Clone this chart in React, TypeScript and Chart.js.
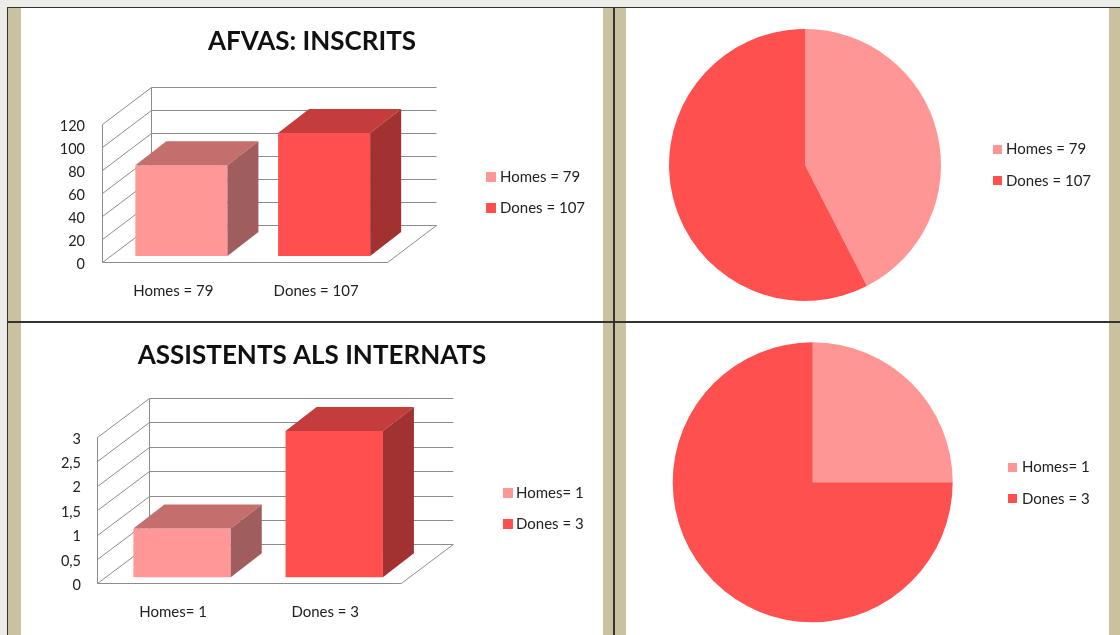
import React, { useEffect, useRef } from 'react';
import { Chart, registerables } from 'chart.js';

Chart.register(...registerables);

// ---------- data ----------
const titleInscrits = 'AFVAS: INSCRITS';
const categoriesInscrits = ['Homes = 79', 'Dones = 107'];
const valuesInscrits = [79, 107];
const yTicksInscrits = [0, 20, 40, 60, 80, 100, 120];
const yTickLabelsInscrits = ['0', '20', '40', '60', '80', '100', '120'];

const titleInternats = 'ASSISTENTS ALS INTERNATS';
const categoriesInternats = ['Homes= 1', 'Dones = 3'];
const valuesInternats = [1, 3];
const yTicksInternats = [0, 0.5, 1, 1.5, 2, 2.5, 3];
const yTickLabelsInternats = ['0', '0,5', '1', '1,5', '2', '2,5', '3'];

// ---------- styles ----------
const FRONT = ['#FF9797', '#FF4F4F'];
const TOP = ['#C46E6E', '#C43C3C'];
const SIDE = ['#A05D5D', '#A23131'];
const PIE = ['#FF9696', '#FF5050'];
const FONT = 'Lato, "Open Sans", sans-serif';
const TEXT = '#222';

const bar3d = {
  id: 'bar3d',
  beforeDatasetsDraw(chart: any, _a: any, opts: any) {
    const { ctx, chartArea: a, scales } = chart;
    const y = scales.y;
    const { dx, dy } = opts.wall;
    const L = Math.round(a.left) + 0.5;
    const R = a.right;
    ctx.save();
    ctx.strokeStyle = opts.gridColor;
    ctx.lineWidth = 1;
    ctx.beginPath();
    y.ticks.forEach((t: any) => {
      const py = Math.round(y.getPixelForValue(t.value)) + 0.5;
      ctx.moveTo(L, py);
      ctx.lineTo(L + dx, py + dy);
      ctx.lineTo(R + dx, py + dy);
    });
    const top = Math.round(y.getPixelForValue(y.max)) + 0.5;
    const bot = Math.round(y.getPixelForValue(y.min)) + 0.5;
    ctx.moveTo(L, top);
    ctx.lineTo(L, bot);
    ctx.moveTo(L + dx, top + dy);
    ctx.lineTo(L + dx, bot + dy);
    ctx.moveTo(L, bot);
    ctx.lineTo(R, bot);
    ctx.lineTo(R + dx, bot + dy);
    ctx.stroke();
    ctx.restore();
    ctx.save();
    ctx.translate(opts.shift.x, opts.shift.y);
  },
  afterDatasetsDraw(chart: any, _a: any, opts: any) {
    const { ctx } = chart;
    const meta = chart.getDatasetMeta(0);
    const { dx, dy } = opts.depth;
    meta.data.forEach((bar: any, i: number) => {
      const { x, y, base, width } = bar.getProps(['x', 'y', 'base', 'width'], true);
      const l = x - width / 2;
      const r = x + width / 2;
      ctx.fillStyle = opts.topColors[i];
      ctx.beginPath();
      ctx.moveTo(l, y);
      ctx.lineTo(l + dx, y + dy);
      ctx.lineTo(r + dx, y + dy);
      ctx.lineTo(r, y);
      ctx.closePath();
      ctx.fill();
      ctx.fillStyle = opts.sideColors[i];
      ctx.beginPath();
      ctx.moveTo(r, y);
      ctx.lineTo(r + dx, y + dy);
      ctx.lineTo(r + dx, base + dy);
      ctx.lineTo(r, base);
      ctx.closePath();
      ctx.fill();
    });
    ctx.restore();
  },
};

const sideLegend = {
  id: 'sideLegend',
  afterDraw(chart: any, _a: any, opts: any) {
    const { ctx } = chart;
    const labels = chart.data.labels as string[];
    const colors = chart.data.datasets[0].backgroundColor as string[];
    ctx.save();
    ctx.font = `15px ${FONT}`;
    ctx.textBaseline = 'middle';
    ctx.textAlign = 'left';
    labels.forEach((lab, i) => {
      const cy = opts.y + i * opts.dy;
      ctx.fillStyle = colors[i];
      ctx.fillRect(opts.boxX, Math.round(cy - opts.box / 2), opts.box, opts.box);
      ctx.fillStyle = TEXT;
      ctx.fillText(lab, opts.textX, cy);
    });
    ctx.restore();
  },
};

type BarCfg = {
  title: string;
  labels: string[];
  values: number[];
  ticks: number[];
  tickLabels: string[];
  max: number;
  axisW: number;
  rightW: number;
  axisH: number;
  titlePad: { top: number; bottom: number };
  xPad: number;
  yPad: number;
  barPct: number;
  wall: { dx: number; dy: number };
  shift: { x: number; y: number };
  depth: { dx: number; dy: number };
  legend: any;
};

function makeBar(canvas: HTMLCanvasElement, c: BarCfg) {
  return new Chart(canvas, {
    type: 'bar',
    data: {
      labels: c.labels,
      datasets: [
        {
          data: c.values,
          backgroundColor: FRONT,
          borderWidth: 0,
          categoryPercentage: 1,
          barPercentage: c.barPct,
          clip: false as any,
        },
      ],
    },
    options: {
      responsive: false,
      animation: false,
      events: [],
      layout: { padding: 0 },
      scales: {
        x: {
          grid: { display: false, drawTicks: false },
          border: { display: false },
          ticks: { font: { family: FONT, size: 15 }, color: TEXT, padding: c.xPad },
          afterFit: (s: any) => {
            s.height = c.axisH;
          },
        },
        y: {
          min: 0,
          max: c.max,
          grid: { display: false, drawTicks: false },
          border: { display: false },
          afterBuildTicks: (s: any) => {
            s.ticks = c.ticks.map((v) => ({ value: v }));
          },
          ticks: {
            font: { family: FONT, size: 14.5 },
            color: TEXT,
            padding: c.yPad,
            labelOffset: 2,
            callback: (_v: any, i: number) => c.tickLabels[i],
          },
          afterFit: (s: any) => {
            s.width = c.axisW;
          },
        },
        yR: {
          type: 'linear',
          position: 'right',
          display: true,
          grid: { display: false, drawTicks: false },
          border: { display: false },
          ticks: { display: false },
          afterFit: (s: any) => {
            s.width = c.rightW;
          },
        },
      } as any,
      plugins: {
        legend: { display: false },
        tooltip: { enabled: false },
        title: {
          display: true,
          text: c.title,
          color: '#111',
          font: { family: FONT, size: 26, weight: 'bold' },
          padding: c.titlePad,
        },
        bar3d: {
          gridColor: '#8c8c8c',
          wall: c.wall,
          shift: c.shift,
          depth: c.depth,
          topColors: TOP,
          sideColors: SIDE,
        },
        sideLegend: c.legend,
      } as any,
    },
    plugins: [bar3d, sideLegend],
  });
}

function makePie(canvas: HTMLCanvasElement, labels: string[], values: number[], padding: any, legend: any) {
  return new Chart(canvas, {
    type: 'pie',
    data: {
      labels,
      datasets: [{ data: values, backgroundColor: PIE, borderWidth: 0, hoverOffset: 0 }],
    },
    options: {
      responsive: false,
      animation: false,
      events: [],
      layout: { padding },
      plugins: {
        legend: { display: false },
        tooltip: { enabled: false },
        sideLegend: legend,
      } as any,
    },
    plugins: [sideLegend],
  });
}

export default function App() {
  const tl = useRef<HTMLCanvasElement>(null);
  const tr = useRef<HTMLCanvasElement>(null);
  const bl = useRef<HTMLCanvasElement>(null);
  const br = useRef<HTMLCanvasElement>(null);

  useEffect(() => {
    document.body.style.margin = '0';
    const charts: Chart[] = [];
    charts.push(
      makeBar(tl.current!, {
        title: titleInscrits,
        labels: categoriesInscrits,
        values: valuesInscrits,
        ticks: yTicksInscrits,
        tickLabels: yTickLabelsInscrits,
        max: 120,
        axisW: 81,
        rightW: 215.5,
        axisH: 59,
        titlePad: { top: 18.4, bottom: 66.4 },
        xPad: 20,
        yPad: 17,
        barPct: 0.645,
        wall: { dx: 49, dy: -37 },
        shift: { x: 8, y: -6 },
        depth: { dx: 31, dy: -24 },
        legend: { boxX: 465, box: 10, textX: 479, y: 168.7, dy: 31.6 },
      })
    );
    charts.push(
      makeBar(bl.current!, {
        title: titleInternats,
        labels: categoriesInternats,
        values: valuesInternats,
        ticks: yTicksInternats,
        tickLabels: yTickLabelsInternats,
        max: 3,
        axisW: 76,
        rightW: 201.7,
        axisH: 51.7,
        titlePad: { top: 17.4, bottom: 65.4 },
        xPad: 19.5,
        yPad: 16,
        barPct: 0.64,
        wall: { dx: 52, dy: -39 },
        shift: { x: 9, y: -6 },
        depth: { dx: 31, dy: -24 },
        legend: { boxX: 482, box: 10, textX: 495, y: 170.3, dy: 31 },
      })
    );
    charts.push(
      makePie(tr.current!, categoriesInscrits, valuesInscrits, { left: 42, right: 168, top: 21, bottom: 20 }, {
        boxX: 366,
        box: 9,
        textX: 379,
        y: 141.3,
        dy: 31.4,
      })
    );
    charts.push(
      makePie(br.current!, categoriesInternats, valuesInternats, { left: 45.7, right: 156.3, top: 19.3, bottom: 12.7 }, {
        boxX: 381,
        box: 9,
        textX: 395,
        y: 144.3,
        dy: 31.4,
      })
    );
    return () => charts.forEach((c) => c.destroy());
  }, []);

  const abs = (l: number, t: number, w: number, h: number, bg: string): React.CSSProperties => ({
    position: 'absolute',
    left: l,
    top: t,
    width: w,
    height: h,
    background: bg,
  });
  const TAN = '#C8C2A0';
  const DARK = '#333';

  return (
    <div style={{ position: 'relative', width: 1120, height: 635, overflow: 'hidden', background: '#ecece8' }}>
      <div style={abs(8, 8, 13, 627, TAN)} />
      <div style={abs(603, 8, 23, 627, TAN)} />
      <div style={abs(1109, 8, 11, 627, TAN)} />
      <div style={abs(21, 8, 582, 313, '#fff')} />
      <div style={abs(626, 8, 483, 313, '#fff')} />
      <div style={abs(21, 323, 582, 312, '#fff')} />
      <div style={abs(626, 323, 483, 312, '#fff')} />
      <div style={abs(7, 7, 1113, 1, DARK)} />
      <div style={abs(7, 7, 1, 628, DARK)} />
      <div style={abs(613, 7, 2, 628, DARK)} />
      <div style={abs(7, 321, 1113, 2, DARK)} />
      <canvas ref={tl} width={582} height={313} style={{ position: 'absolute', left: 21, top: 8 }} />
      <canvas ref={tr} width={482} height={313} style={{ position: 'absolute', left: 627, top: 8 }} />
      <canvas ref={bl} width={582} height={312} style={{ position: 'absolute', left: 21, top: 323 }} />
      <canvas ref={br} width={482} height={312} style={{ position: 'absolute', left: 627, top: 323 }} />
    </div>
  );
}
